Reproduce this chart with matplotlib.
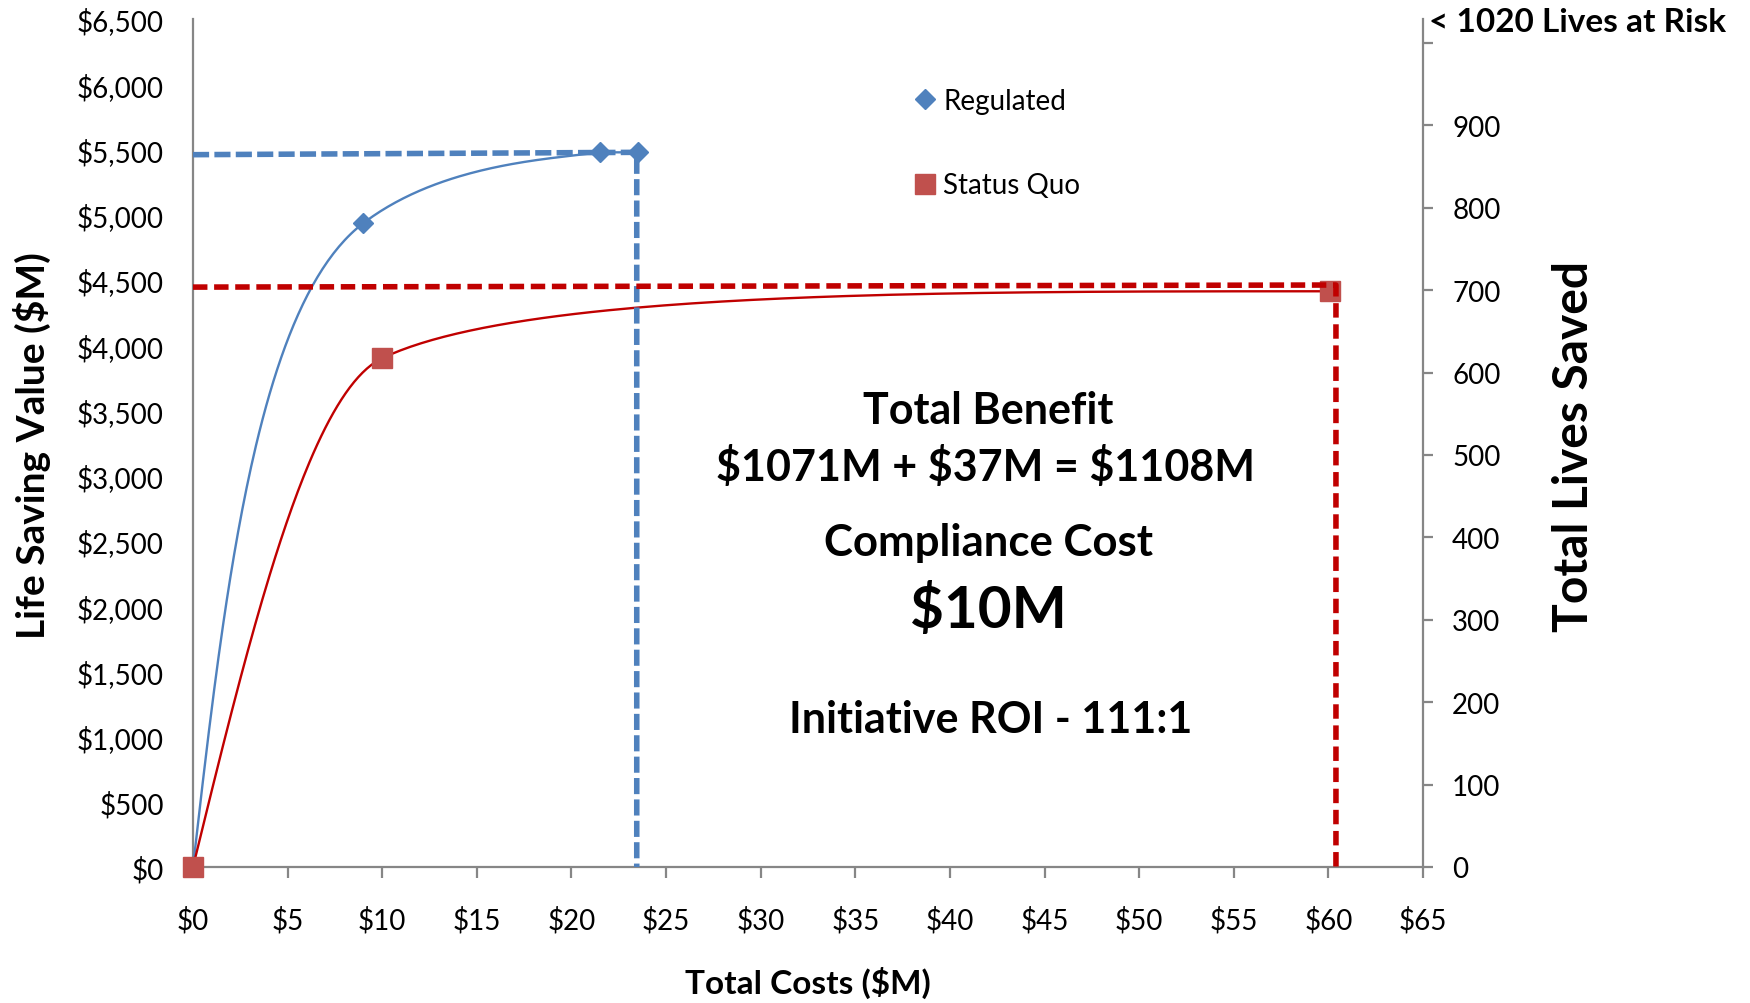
import numpy as np
import matplotlib
matplotlib.use("Agg")
import matplotlib.pyplot as plt

plt.rcParams['font.family'] = ['Lato', 'DejaVu Sans']

# ---------------- data ----------------
reg_x = [0.0, 9.0, 21.5, 23.5]
reg_y = [0.0, 4935.0, 5478.0, 5478.0]
sq_x = [0.0, 10.0, 60.1]
sq_y = [0.0, 3900.0, 4413.0]

reg_guide_x = [0.0, 23.45, 23.45]
reg_guide_y = [5460.0, 5478.0, 0.0]
sq_guide_x = [0.0, 60.4, 60.4]
sq_guide_y = [4445.0, 4461.0, 0.0]

x_ticks = list(range(0, 66, 5))
x_labels = ["$%d" % v for v in x_ticks]
y_ticks = list(range(0, 6501, 500))
y_labels = ["${:,}".format(v) for v in y_ticks]
lives_ticks = list(range(0, 1001, 100))
lives_labels = [str(v) if v < 1000 else "" for v in lives_ticks]
lives_max = 1029

legend_labels = ["Regulated", "Status Quo"]
center_lines = ["Total Benefit", "$1071M + $37M = $1108M", "Compliance Cost", "$10M",
                "Initiative ROI - 111:1"]

BLUE = "#4F81BD"
RED_M = "#C0504D"
RED_L = "#C00000"
GRAY = "#868686"

W, H = 1750, 1004
fig = plt.figure(figsize=(W / 100, H / 100), dpi=100)
ax = fig.add_axes([193 / W, 1 - 868 / H, 1230 / W, 848 / H])
ax.set_xlim(0, 65)
ax.set_ylim(0, 6500)


def smooth(ax, xs, ys, f_in=0.2, f_out=0.4, k=0.5, ystretch=2.0, n=100):
    """Bezier smoothing through the points, computed in display space."""
    P = ax.transData.transform(np.column_stack([xs, ys]).astype(float))
    m = len(P)
    S = np.array([1.0, ystretch])
    T = np.zeros_like(P)
    for i in range(1, m - 1):
        a = (P[i] - P[i - 1]) * S
        b = (P[i + 1] - P[i]) * S
        t = a / np.linalg.norm(a) + b / np.linalg.norm(b)
        t = t / S
        T[i] = t / np.linalg.norm(t)
    pts = []
    for i in range(m - 1):
        A, B = P[i], P[i + 1]
        d = np.linalg.norm(B - A)
        lo, hi = min(A[1], B[1]), max(A[1], B[1])
        c1 = c2 = None
        if i > 0:
            L = f_out * d
            if T[i][1] > 0 and A[1] + T[i][1] * L > hi:
                L = (hi - A[1]) / T[i][1]
            c1 = A + T[i] * L
        if i + 1 < m - 1:
            L = f_in * d
            if T[i + 1][1] > 0 and B[1] - T[i + 1][1] * L < lo:
                L = (B[1] - lo) / T[i + 1][1]
            c2 = B - T[i + 1] * L
        if c1 is None and c2 is None:
            c1 = A + (B - A) / 3
            c2 = A + 2 * (B - A) / 3
        elif c1 is None:
            c1 = A + (c2 - A) * k
        elif c2 is None:
            c2 = B + (c1 - B) * k
        t = np.linspace(0, 1, n)[:, None]
        seg = ((1 - t) ** 3) * A + 3 * ((1 - t) ** 2) * t * c1 + 3 * (1 - t) * t ** 2 * c2 + t ** 3 * B
        pts.append(seg if i == 0 else seg[1:])
    pts = np.vstack(pts)
    return ax.transData.inverted().transform(pts)


cr = smooth(ax, reg_x, reg_y, f_in=0.2)
cs = smooth(ax, sq_x, sq_y, f_in=0.15)
ax.plot(cr[:, 0], cr[:, 1], color=BLUE, lw=1.7, zorder=3, clip_on=False)
ax.plot(cs[:, 0], cs[:, 1], color=RED_L, lw=1.7, zorder=3, clip_on=False)

h1, = ax.plot(reg_x, reg_y, linestyle='none', marker='D', ms=10.5, color=BLUE,
              markeredgecolor=BLUE, zorder=5, clip_on=False)
h2, = ax.plot(sq_x, sq_y, linestyle='none', marker='s', ms=14, color=RED_M,
              markeredgecolor=RED_M, zorder=6, clip_on=False)

ax.plot(reg_guide_x, reg_guide_y, color=BLUE, lw=4, dashes=(2.9, 0.95), zorder=4)
ax.plot(sq_guide_x, sq_guide_y, color=RED_L, lw=4, dashes=(2.6, 1.2), zorder=7)

# axes styling
for s in ['top', 'right']:
    ax.spines[s].set_visible(False)
for s in ['left', 'bottom']:
    ax.spines[s].set_color(GRAY)
    ax.spines[s].set_linewidth(1.6)
ax.set_xticks(x_ticks)
ax.set_xticklabels(x_labels)
ax.set_yticks(y_ticks)
ax.set_yticklabels(y_labels)
ax.tick_params(axis='y', length=0, pad=21, labelsize=20)
ax.tick_params(axis='x', direction='out', length=8, width=1.6, color=GRAY, pad=20, labelsize=20)

ax2 = ax.twinx()
ax2.set_ylim(0, lives_max)
ax2.set_yticks(lives_ticks)
ax2.set_yticklabels(lives_labels)
for s in ['top', 'left', 'bottom']:
    ax2.spines[s].set_visible(False)
ax2.spines['right'].set_color(GRAY)
ax2.spines['right'].set_linewidth(1.6)
ax2.tick_params(axis='y', direction='out', length=7, width=1.6, color=GRAY, pad=14, labelsize=20)

leg = ax.legend([h1, h2], legend_labels, loc='upper left', frameon=False, fontsize=20,
                bbox_to_anchor=(914 / W, 1 - 89 / H), bbox_transform=fig.transFigure,
                borderpad=0, borderaxespad=0, handlelength=0.8, handletextpad=0.25,
                labelspacing=2.1, numpoints=1)
leg.set_zorder(10)


def ftext(x, y, s, **kw):
    fig.text(x / W, 1 - y / H, s, **kw)


ftext(32, 446, "Life Saving Value ($M)", rotation=90, ha='center', va='center',
      fontsize=28, fontweight='bold')
ftext(1574, 446, "Total Lives Saved", rotation=90, ha='center', va='center',
      fontsize=34.5, fontweight='bold')
ftext(808, 983, "Total Costs ($M)", ha='center', va='center', fontsize=24, fontweight='bold')
ftext(1429, 22, "< 1020 Lives at Risk", ha='left', va='center', fontsize=24, fontweight='bold')

cy = [411, 467, 543, 611, 720]
cx = [988, 986, 988, 988, 991]
cs_sizes = [31, 31, 31.5, 42, 31]
for s, x, y, fs in zip(center_lines, cx, cy, cs_sizes):
    ftext(x, y, s, ha='center', va='center', fontsize=fs, fontweight='bold')

fig.savefig("out.png", dpi=100)
